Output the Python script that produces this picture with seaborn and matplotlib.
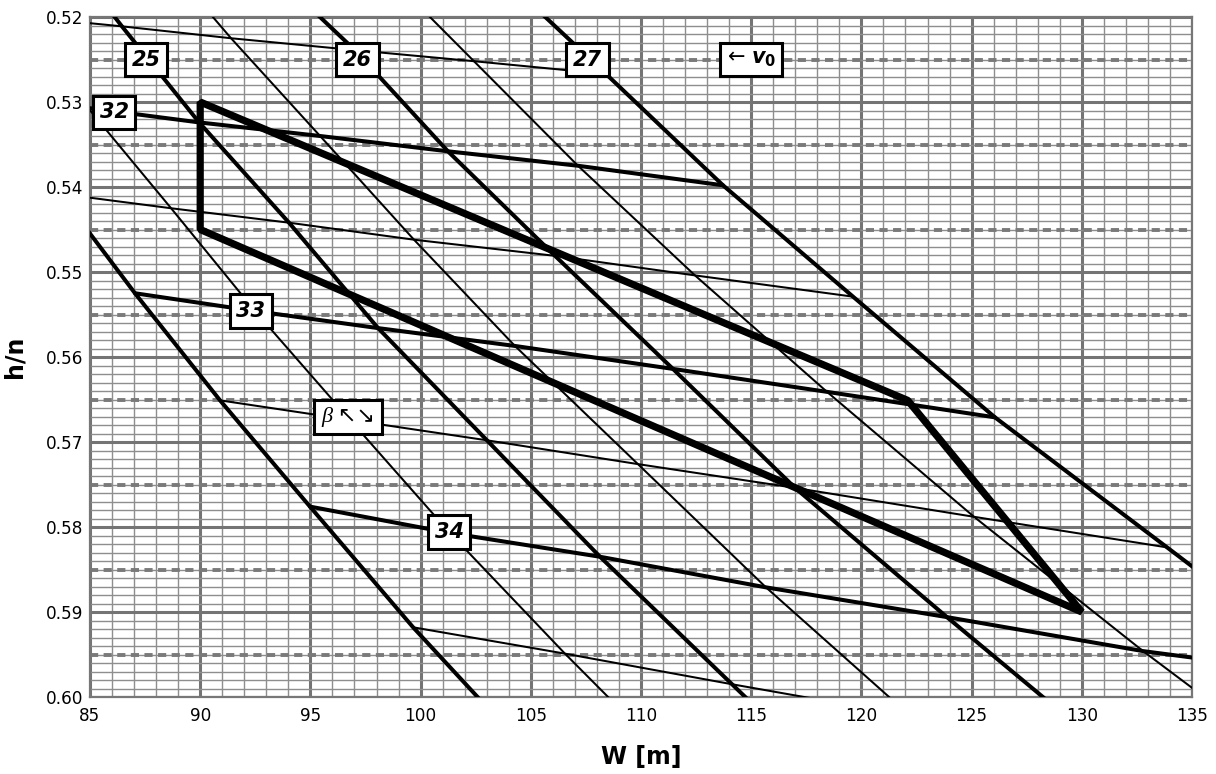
import numpy as np
import pandas as pd
import seaborn as sns
import matplotlib.pyplot as plt
from matplotlib.patches import Polygon
from matplotlib.ticker import MultipleLocator, FormatStrFormatter

# node grid: rows follow V0, columns follow BETA
V0 = [24, 24.5, 25, 25.5, 26, 26.5, 27]
BETA = [31, 31.5, 32, 32.5, 33, 33.5, 34, 34.5, 35]

W_NODES = [
    [73.43, 77.06, 80.24, 83.64, 87.04, 90.90, 94.98, 99.66, 104.69],
    [77.74, 81.37, 84.91, 88.68, 92.49, 96.80, 101.33, 106.55, 111.77],
    [83.05, 86.45, 89.95, 94.03, 98.07, 103.01, 108.14, 114.13, 120.03],
    [87.54, 91.40, 95.44, 99.70, 104.28, 109.86, 115.67, 122.21, 128.56],
    [92.26, 97.02, 101.24, 106.10, 111.45, 116.99, 123.88, 130.69, 137.50],
    [97.89, 102.42, 107.14, 112.45, 118.44, 125.11, 132.78, 140.49, 148.20],
    [103.56, 108.41, 113.72, 119.62, 126.06, 133.87, 141.58, 149.29, 157.01],
]
H_NODES = [
    [0.5068, 0.5186, 0.5293, 0.5408, 0.5525, 0.5651, 0.5776, 0.5918, 0.6059],
    [0.5074, 0.5198, 0.5307, 0.5425, 0.5546, 0.5674, 0.5807, 0.5949, 0.6085],
    [0.5098, 0.5211, 0.5324, 0.5442, 0.5566, 0.5698, 0.5835, 0.5985, 0.6132],
    [0.5108, 0.5225, 0.5340, 0.5462, 0.5587, 0.5726, 0.5871, 0.6022, 0.6169],
    [0.5122, 0.5239, 0.5358, 0.5481, 0.5614, 0.5754, 0.5906, 0.6053, 0.6196],
    [0.5134, 0.5252, 0.5375, 0.5504, 0.5641, 0.5788, 0.5946, 0.6096, 0.6247],
    [0.5149, 0.5267, 0.5398, 0.5529, 0.5671, 0.5824, 0.5976, 0.6129, 0.6282],
]

# outline of the admissible region
REGION_W = [90.0, 90.0, 130.0, 122.1]
REGION_H = [0.530, 0.545, 0.590, 0.5651]

# boxed labels
LABEL_TEXT = ["25", "26", "27", "32", "33", "34"]
LABEL_W = [87.54, 97.14, 107.57, 86.09, 92.30, 101.29]
LABEL_H = [0.525, 0.525, 0.525, 0.5312, 0.5546, 0.5806]

DASH_H = [0.525, 0.535, 0.545, 0.555, 0.565, 0.575, 0.585, 0.595]

rows = []
for i, v in enumerate(V0):
    for j, b in enumerate(BETA):
        rows.append({"v0": v, "beta": b, "W": W_NODES[i][j], "h": H_NODES[i][j]})
df = pd.DataFrame(rows)
df["v0_w"] = np.where(df["v0"] % 1 == 0, "thick", "thin")
df["beta_w"] = np.where(df["beta"] % 1 == 0, "thick", "thin")

sns.set_style("white")
plt.rcParams["font.family"] = ["DejaVu Sans"]
plt.rcParams["text.color"] = "black"
plt.rcParams["axes.labelcolor"] = "black"
plt.rcParams["xtick.labelcolor"] = "black"
plt.rcParams["ytick.labelcolor"] = "black"
plt.rcParams["mathtext.fontset"] = "custom"
plt.rcParams["mathtext.it"] = "DejaVu Sans:italic:bold"
plt.rcParams["mathtext.rm"] = "DejaVu Sans:bold"

fig = plt.figure(figsize=(12.16, 7.74), dpi=100)
ax = fig.add_axes([90 / 1216, 77 / 774, 1102 / 1216, 680 / 774])

sizes = {"thick": 2.9, "thin": 1.45}
v0_df = df.sort_values(["v0", "beta"])
sns.lineplot(data=v0_df, x="W", y="h", units="v0", estimator=None, sort=False,
             size="v0_w", sizes=sizes, color="black", legend=False, ax=ax, zorder=3)

b_df = df[(df["beta"] >= 31.5) & (df["beta"] <= 34.5)].sort_values(["beta", "v0"])
sns.lineplot(data=b_df, x="W", y="h", units="beta", estimator=None, sort=False,
             size="beta_w", sizes=sizes, color="black", legend=False, ax=ax, zorder=3)

ax.add_patch(Polygon(np.column_stack([REGION_W, REGION_H]), closed=True, fill=False,
                     ec="black", lw=5.2, joinstyle="bevel", zorder=4))

for y in DASH_H:
    ax.axhline(y, color="#7a7a7a", lw=2.8, dashes=(2.1, 1.4), zorder=1.5)

box = dict(boxstyle="square,pad=0.32", fc="white", ec="black", lw=2.2)
for t, x, y in zip(LABEL_TEXT, LABEL_W, LABEL_H):
    ax.text(x, y, t, ha="center", va="center", fontsize=15, fontweight="bold",
            style="italic", color="black", bbox=box, zorder=6)
ax.text(115.0, 0.525, r"← $v_{\mathit{0}}$", ha="center", va="center", fontsize=15,
        color="black", bbox=box, zorder=6)
ax.text(96.71, 0.5671, "β ↖↘", ha="center", va="center", fontsize=16,
        family=["Liberation Serif", "DejaVu Sans"], style="italic", color="black",
        bbox=box, zorder=6)

ax.set_xlim(85, 135)
ax.set_ylim(0.60, 0.52)
ax.xaxis.set_major_locator(MultipleLocator(5))
ax.xaxis.set_minor_locator(MultipleLocator(1))
ax.yaxis.set_major_locator(MultipleLocator(0.01))
ax.yaxis.set_minor_locator(MultipleLocator(0.001))
ax.yaxis.set_major_formatter(FormatStrFormatter("%.2f"))
ax.set_axisbelow(True)
ax.grid(which="major", color="#747474", lw=2.2)
ax.grid(which="minor", color="#8e8e8e", lw=1.0)

ax.tick_params(which="major", length=3, width=1.4, color="#777777", labelsize=12.2,
               labelcolor="black")
ax.tick_params(axis="x", which="major", pad=4)
ax.tick_params(axis="y", which="major", pad=2)
ax.tick_params(which="minor", length=0)
for s in ax.spines.values():
    s.set_color("#777777")
    s.set_linewidth(1.6)

ax.set_xlabel("W [m]", fontsize=17, fontweight="bold", color="black")
ax.set_ylabel("h/n", fontsize=17, fontweight="bold", color="black")
ax.xaxis.set_label_coords(0.5, -0.0706)
ax.yaxis.set_label_coords(-0.0572, 0.5)

fig.savefig("out.png", dpi=100)
